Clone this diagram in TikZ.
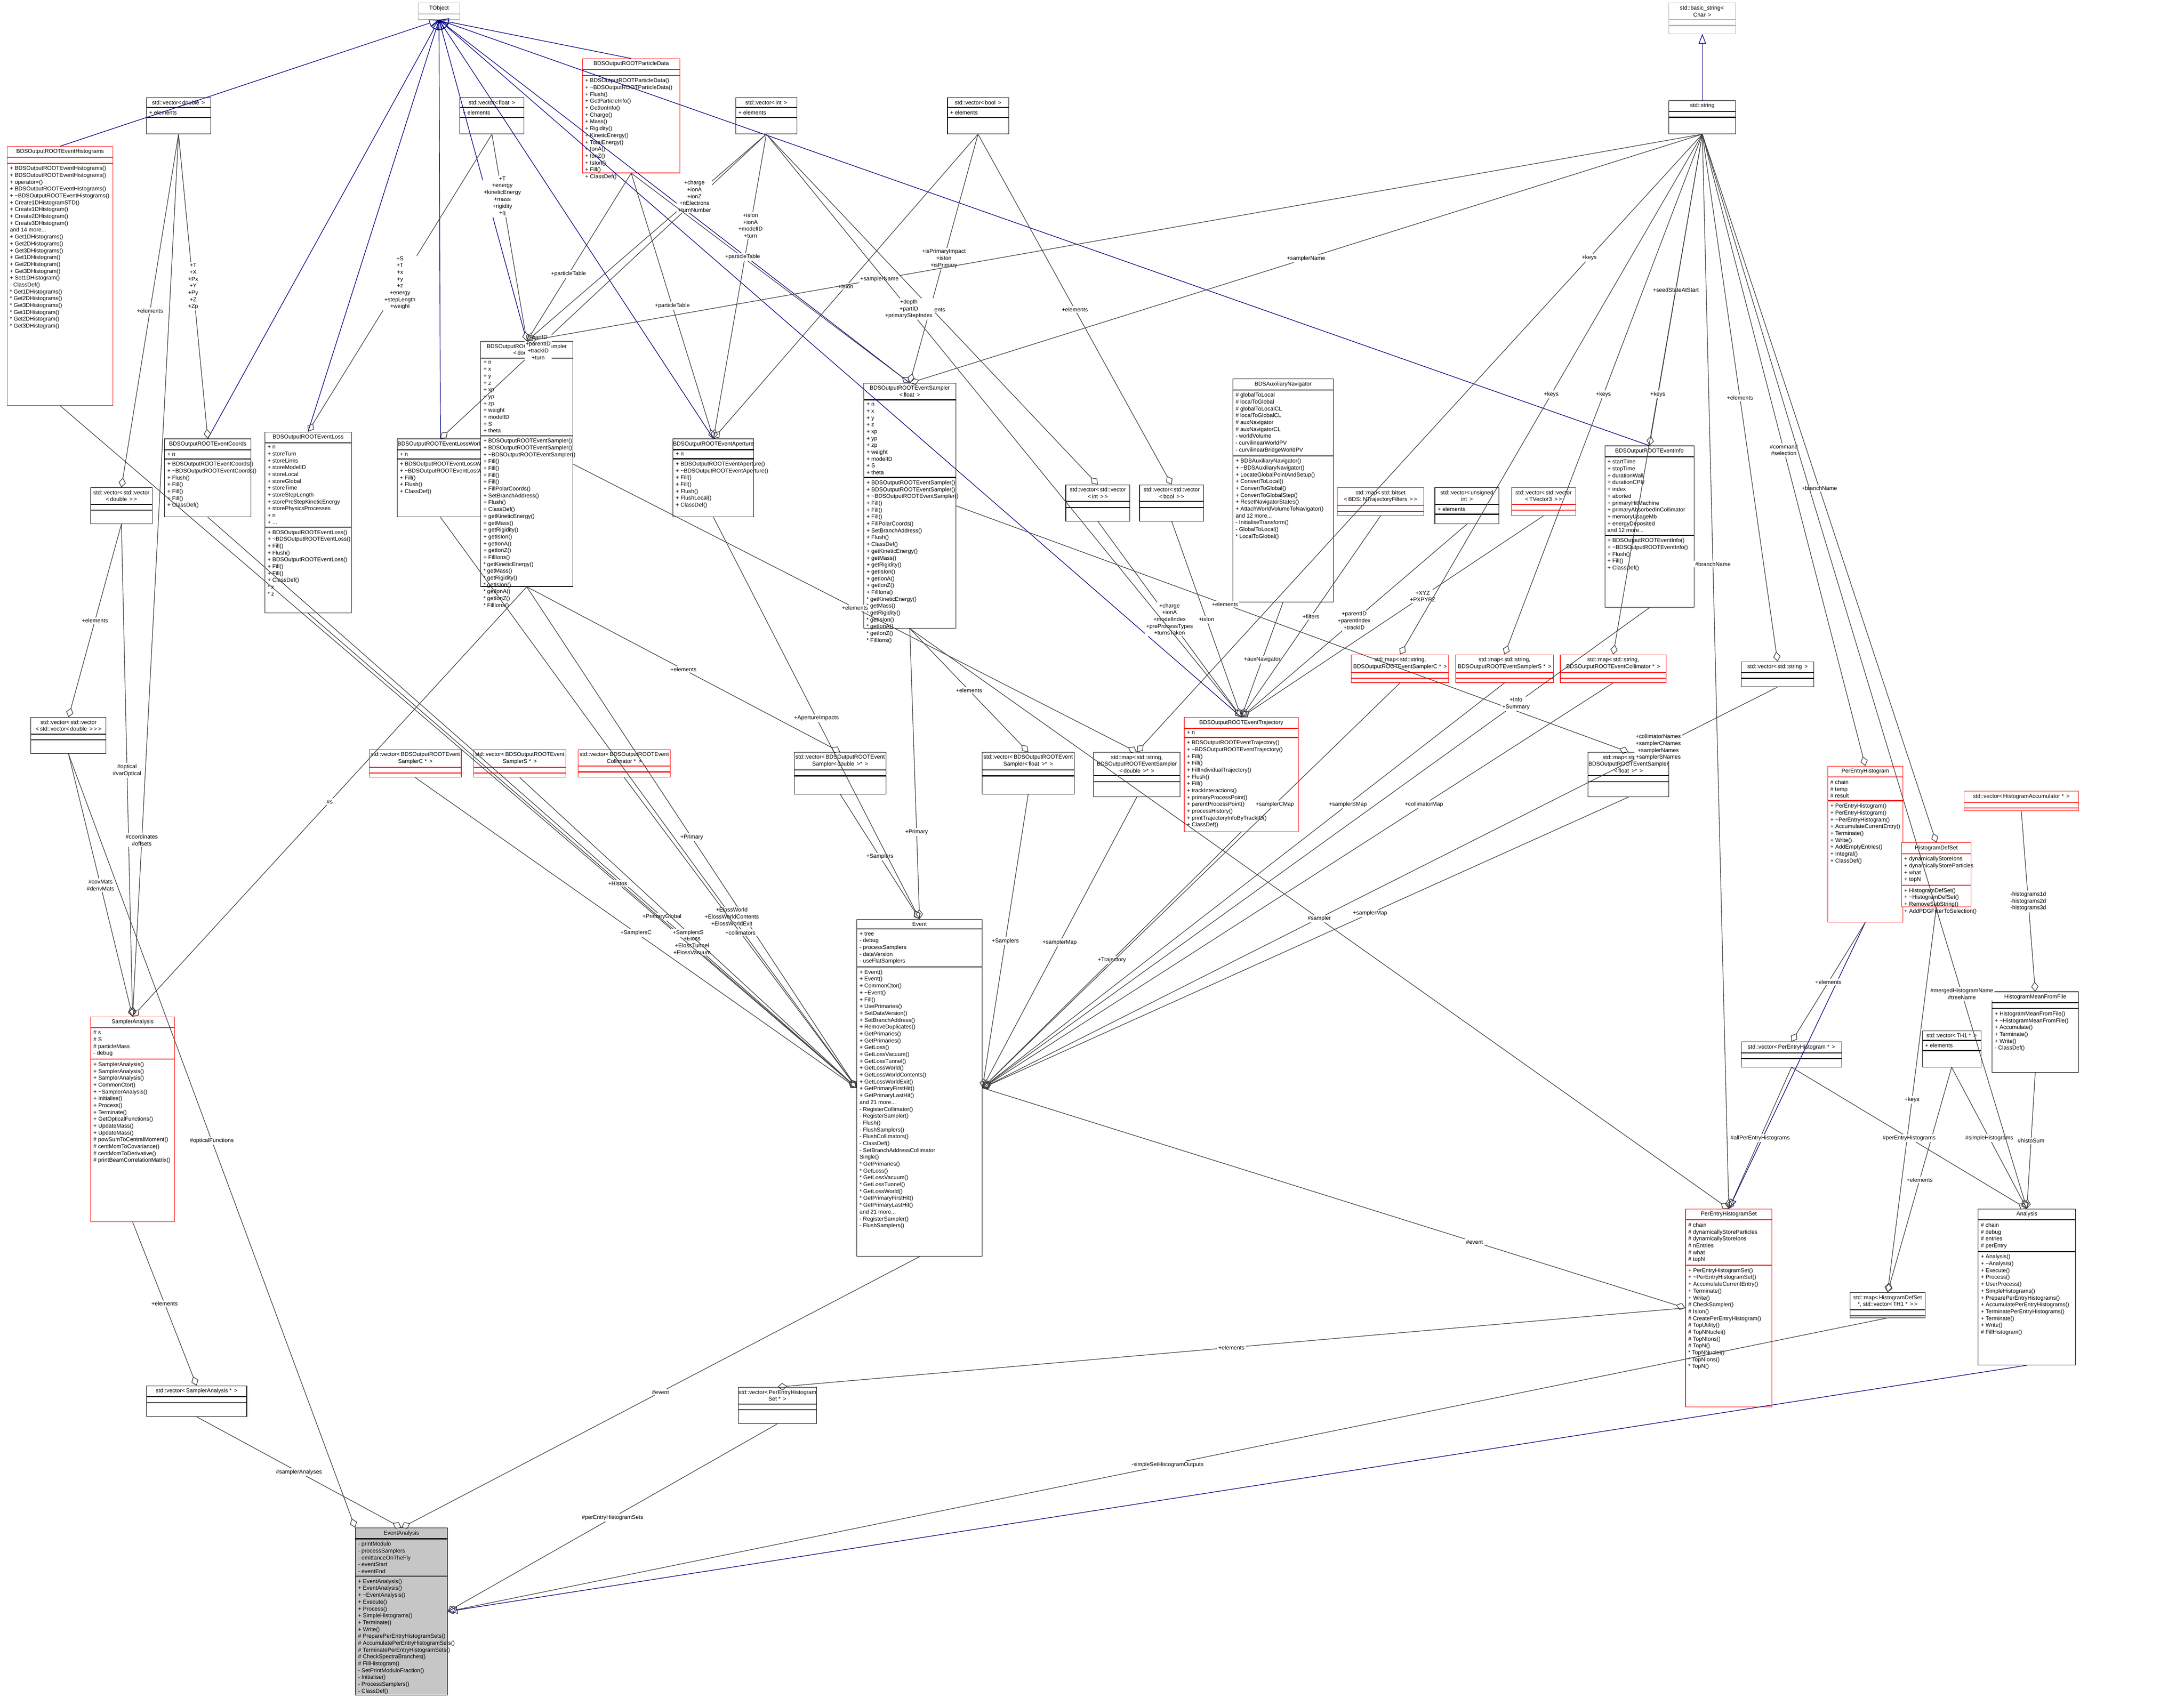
\documentclass[tikz,border=0pt]{standalone}
\usepackage{fontspec}
\setmainfont{Liberation Sans}
\usetikzlibrary{arrows.meta}
\newcommand{\ltc}{\textless\,}
\newcommand{\gtc}{\,\textgreater}

% class box: name, x, y, w, h, colour, title, attributes, methods
\newcommand{\cls}[9]{%
  \node[clsbox, draw=#6, minimum width=#4*0.02cm, minimum height=#5*0.02cm] (#1) at (#2,#3) {};
  \node[anchor=north, align=center, inner sep=1pt] (#1t) at (#1.north) {#7};
  \draw[#6] (#1t.south -| #1.west) -- (#1t.south -| #1.east);
  \node[anchor=north west, align=left, inner sep=1pt] (#1a) at (#1t.south -| #1.west) {#8};
  \draw[#6] (#1a.south -| #1.west) -- (#1a.south -| #1.east);
  \node[anchor=north west, align=left, inner sep=1pt] at (#1a.south -| #1.west) {#9};
}

\begin{document}
\begin{tikzpicture}[x=0.02cm, y=-0.02cm, font=\fontsize{2.3}{2.8}\selectfont]
  \tikzset{clsbox/.style={rectangle, anchor=north west, fill=white, line width=0.2pt, inner sep=0pt}}
  \tikzset{use/.style={draw=black!75, line width=0.25pt, {Diamond[open, length=4pt, width=3pt]}-}}
  \tikzset{inh/.style={draw=blue!50!black, line width=0.25pt, -{Triangle[open, length=4pt, width=3pt]}}}
  \tikzset{lab/.style={fill=white, align=center, inner sep=0.5pt}}
  \useasboundingbox (0,0) rectangle (1568,1219);

  % top row
  \cls{tobj}{300}{2}{30}{12}{gray!60}{TObject}{}{}
  \cls{bstr}{1198}{2}{48}{22}{gray!60}{std::basic\_string\ltc\\Char \gtc}{~}{~}
  \cls{str}{1198}{72}{48}{24}{black}{std::string}{~}{~}
  \cls{pdata}{418}{42}{70}{82}{red}{BDSOutputROOTParticleData}{~}{+ BDSOutputROOTParticleData()\\+ \textasciitilde BDSOutputROOTParticleData()\\+ Flush()\\+ GetParticleInfo()\\+ GetIonInfo()\\+ Charge()\\+ Mass()\\+ Rigidity()\\+ KineticEnergy()\\+ TotalEnergy()\\+ IonA()\\+ IonZ()\\+ IsIon()\\+ Fill()\\+ ClassDef()}
  \cls{vd}{105}{70}{46}{26}{black}{std::vector\ltc double \gtc}{+ elements}{~}
  \cls{vf}{330}{70}{46}{26}{black}{std::vector\ltc float \gtc}{+ elements}{~}
  \cls{vi}{528}{70}{44}{26}{black}{std::vector\ltc int \gtc}{+ elements}{~}
  \cls{vb}{680}{70}{44}{26}{black}{std::vector\ltc bool \gtc}{+ elements}{~}

  % BDSOutput classes
  \cls{hist}{5}{105}{76}{186}{red}{BDSOutputROOTEventHistograms}{~}{+ BDSOutputROOTEventHistograms()\\+ BDSOutputROOTEventHistograms()\\+ operator=()\\+ BDSOutputROOTEventHistograms()\\+ \textasciitilde BDSOutputROOTEventHistograms()\\+ Create1DHistogramSTD()\\+ Create1DHistogram()\\+ Create2DHistogram()\\+ Create3DHistogram()\\and 14 more...\\+ Get1DHistograms()\\+ Get2DHistograms()\\+ Get3DHistograms()\\+ Get1DHistogram()\\+ Get2DHistogram()\\+ Get3DHistogram()\\+ Set1DHistogram()\\- ClassDef()\\* Get1DHistograms()\\* Get2DHistograms()\\* Get3DHistograms()\\* Get1DHistogram()\\* Get2DHistogram()\\* Get3DHistogram()}
  \cls{coords}{118}{315}{62}{56}{black}{BDSOutputROOTEventCoords}{+ n}{+ BDSOutputROOTEventCoords()\\+ \textasciitilde BDSOutputROOTEventCoords()\\+ Flush()\\+ Fill()\\+ Fill()\\+ Fill()\\+ ClassDef()}
  \cls{loss}{190}{310}{62}{130}{black}{BDSOutputROOTEventLoss}{+ n\\+ storeTurn\\+ storeLinks\\+ storeModelID\\+ storeLocal\\+ storeGlobal\\+ storeTime\\+ storeStepLength\\+ storePreStepKineticEnergy\\+ storePhysicsProcesses\\+ n\\+ ...}{+ BDSOutputROOTEventLoss()\\+ \textasciitilde BDSOutputROOTEventLoss()\\+ Fill()\\+ Flush()\\+ BDSOutputROOTEventLoss()\\+ Fill()\\+ Fill()\\+ ClassDef()\\* x\\* z}
  \cls{lworld}{285}{315}{62}{56}{black}{BDSOutputROOTEventLossWorld}{+ n}{+ BDSOutputROOTEventLossWorld()\\+ \textasciitilde BDSOutputROOTEventLossWorld()\\+ Fill()\\+ Flush()\\+ ClassDef()}
  \cls{sd}{345}{245}{66}{176}{black}{BDSOutputROOTEventSampler\\\ltc double \gtc}{+ n\\+ x\\+ y\\+ z\\+ xp\\+ yp\\+ zp\\+ weight\\+ modelID\\+ S\\+ theta}{+ BDSOutputROOTEventSampler()\\+ BDSOutputROOTEventSampler()\\+ \textasciitilde BDSOutputROOTEventSampler()\\+ Fill()\\+ Fill()\\+ Fill()\\+ Fill()\\+ FillPolarCoords()\\+ SetBranchAddress()\\+ Flush()\\+ ClassDef()\\+ getKineticEnergy()\\+ getMass()\\+ getRigidity()\\+ getIsIon()\\+ getIonA()\\+ getIonZ()\\+ FillIons()\\* getKineticEnergy()\\* getMass()\\* getRigidity()\\* getIsIon()\\* getIonA()\\* getIonZ()\\* FillIons()}
  \cls{aper}{483}{315}{58}{56}{black}{BDSOutputROOTEventAperture}{+ n}{+ BDSOutputROOTEventAperture()\\+ \textasciitilde BDSOutputROOTEventAperture()\\+ Fill()\\+ Fill()\\+ Flush()\\+ FlushLocal()\\+ ClassDef()}
  \cls{sf}{620}{275}{66}{176}{black}{BDSOutputROOTEventSampler\\\ltc float \gtc}{+ n\\+ x\\+ y\\+ z\\+ xp\\+ yp\\+ zp\\+ weight\\+ modelID\\+ S\\+ theta}{+ BDSOutputROOTEventSampler()\\+ BDSOutputROOTEventSampler()\\+ \textasciitilde BDSOutputROOTEventSampler()\\+ Fill()\\+ Fill()\\+ Fill()\\+ FillPolarCoords()\\+ SetBranchAddress()\\+ Flush()\\+ ClassDef()\\+ getKineticEnergy()\\+ getMass()\\+ getRigidity()\\+ getIsIon()\\+ getIonA()\\+ getIonZ()\\+ FillIons()\\* getKineticEnergy()\\* getMass()\\* getRigidity()\\* getIsIon()\\* getIonA()\\* getIonZ()\\* FillIons()}
  \cls{vvi}{765}{348}{46}{26}{black}{std::vector\ltc std::vector\\\ltc int \gtc\gtc}{~}{~}
  \cls{vvb}{818}{348}{46}{26}{black}{std::vector\ltc std::vector\\\ltc bool \gtc\gtc}{~}{~}
  \cls{aux}{885}{272}{72}{160}{black}{BDSAuxiliaryNavigator}{\# globalToLocal\\\# localToGlobal\\\# globalToLocalCL\\\# localToGlobalCL\\\# auxNavigator\\\# auxNavigatorCL\\- worldVolume\\- curvilinearWorldPV\\- curvilinearBridgeWorldPV}{+ BDSAuxiliaryNavigator()\\+ \textasciitilde BDSAuxiliaryNavigator()\\+ LocateGlobalPointAndSetup()\\+ ConvertToLocal()\\+ ConvertToGlobal()\\+ ConvertToGlobalStep()\\+ ResetNavigatorStates()\\+ AttachWorldVolumeToNavigator()\\and 12 more...\\- InitialiseTransform()\\- GlobalToLocal()\\* LocalToGlobal()}
  \cls{bitset}{960}{350}{62}{20}{red}{std::map\ltc std::bitset\\\ltc BDS::NTrajectoryFilters \gtc\gtc}{~}{~}
  \cls{vui}{1030}{350}{46}{26}{black}{std::vector\ltc unsigned\\int \gtc}{+ elements}{~}
  \cls{vtv}{1085}{350}{46}{20}{red}{std::vector\ltc std::vector\\\ltc TVector3 \gtc\gtc}{~}{~}
  \cls{info}{1152}{320}{64}{116}{black}{BDSOutputROOTEventInfo}{+ startTime\\+ stopTime\\+ durationWall\\+ durationCPU\\+ index\\+ aborted\\+ primaryHitMachine\\+ primaryAbsorbedInCollimator\\+ memoryUsageMb\\+ energyDeposited\\and 12 more...}{+ BDSOutputROOTEventInfo()\\+ \textasciitilde BDSOutputROOTEventInfo()\\+ Flush()\\+ Fill()\\+ ClassDef()}
  \cls{vvd}{65}{350}{44}{26}{black}{std::vector\ltc std::vector\\\ltc double \gtc\gtc}{~}{~}
  \cls{vvvd}{22}{515}{54}{26}{black}{std::vector\ltc std::vector\\\ltc std::vector\ltc double \gtc\gtc\gtc}{~}{~}
  \cls{vstr}{1250}{475}{52}{18}{black}{std::vector\ltc std::string \gtc}{~}{~}

  \cls{mc}{970}{470}{70}{20}{red}{std::map\ltc std::string,\\BDSOutputROOTEventSamplerC * \gtc}{~}{~}
  \cls{ms}{1045}{470}{70}{20}{red}{std::map\ltc std::string,\\BDSOutputROOTEventSamplerS * \gtc}{~}{~}
  \cls{mcol}{1120}{470}{76}{20}{red}{std::map\ltc std::string,\\BDSOutputROOTEventCollimator * \gtc}{~}{~}
  \cls{traj}{850}{515}{82}{82}{red}{BDSOutputROOTEventTrajectory}{+ n}{+ BDSOutputROOTEventTrajectory()\\+ \textasciitilde BDSOutputROOTEventTrajectory()\\+ Fill()\\+ Fill()\\+ FillIndividualTrajectory()\\+ Flush()\\+ Fill()\\+ trackInteractions()\\+ primaryProcessPoint()\\+ parentProcessPoint()\\+ processHistory()\\+ printTrajectoryInfoByTrackID()\\+ ClassDef()}
  \cls{md}{785}{540}{62}{32}{black}{std::map\ltc std::string,\\BDSOutputROOTEventSampler\\\ltc double \gtc * \gtc}{~}{~}
  \cls{mf}{1140}{540}{58}{32}{black}{std::map\ltc std::string,\\BDSOutputROOTEventSampler\\\ltc float \gtc * \gtc}{~}{~}
  \cls{vsc}{265}{538}{66}{20}{red}{std::vector\ltc BDSOutputROOTEvent\\SamplerC * \gtc}{~}{~}
  \cls{vss}{340}{538}{66}{20}{red}{std::vector\ltc BDSOutputROOTEvent\\SamplerS * \gtc}{~}{~}
  \cls{vcol}{415}{538}{66}{20}{red}{std::vector\ltc BDSOutputROOTEvent\\Collimator * \gtc}{~}{~}
  \cls{vsd}{570}{540}{66}{30}{black}{std::vector\ltc BDSOutputROOTEvent\\Sampler\ltc double \gtc * \gtc}{~}{~}
  \cls{vsf}{705}{540}{66}{30}{black}{std::vector\ltc BDSOutputROOTEvent\\Sampler\ltc float \gtc * \gtc}{~}{~}

  % analysis classes
  \cls{peh}{1312}{550}{54}{112}{red}{PerEntryHistogram}{\# chain\\\# temp\\\# result}{+ PerEntryHistogram()\\+ PerEntryHistogram()\\+ \textasciitilde PerEntryHistogram()\\+ AccumulateCurrentEntry()\\+ Terminate()\\+ Write()\\+ AddEmptyEntries()\\+ Integral()\\+ ClassDef()}
  \cls{vacc}{1410}{568}{82}{14}{red}{std::vector\ltc HistogramAccumulator * \gtc}{~}{~}
  \cls{hds}{1365}{605}{50}{46}{red}{HistogramDefSet}{+ dynamicallyStoreIons\\+ dynamicallyStoreParticles\\+ what\\+ topN}{+ HistogramDefSet()\\+ \textasciitilde HistogramDefSet()\\+ RemoveSubString()\\+ AddPDGFilterToSelection()}
  \cls{ev}{615}{660}{90}{242}{black}{Event}{+ tree\\- debug\\- processSamplers\\- dataVersion\\- useFlatSamplers}{+ Event()\\+ Event()\\+ CommonCtor()\\+ \textasciitilde Event()\\+ Fill()\\+ UsePrimaries()\\+ SetDataVersion()\\+ SetBranchAddress()\\+ RemoveDuplicates()\\+ GetPrimaries()\\+ GetPrimaries()\\+ GetLoss()\\+ GetLossVacuum()\\+ GetLossTunnel()\\+ GetLossWorld()\\+ GetLossWorldContents()\\+ GetLossWorldExit()\\+ GetPrimaryFirstHit()\\+ GetPrimaryLastHit()\\and 21 more...\\- RegisterCollimator()\\- RegisterSampler()\\- Flush()\\- FlushSamplers()\\- FlushCollimators()\\- ClassDef()\\- SetBranchAddressCollimator\\Single()\\* GetPrimaries()\\* GetLoss()\\* GetLossVacuum()\\* GetLossTunnel()\\* GetLossWorld()\\* GetPrimaryFirstHit()\\* GetPrimaryLastHit()\\and 21 more...\\- RegisterSampler()\\- FlushSamplers()}
  \cls{sa}{65}{730}{60}{147}{red}{SamplerAnalysis}{\# s\\\# S\\\# particleMass\\- debug}{+ SamplerAnalysis()\\+ SamplerAnalysis()\\+ SamplerAnalysis()\\+ CommonCtor()\\+ \textasciitilde SamplerAnalysis()\\+ Initialise()\\+ Process()\\+ Terminate()\\+ GetOpticalFunctions()\\+ UpdateMass()\\+ UpdateMass()\\\# powSumToCentralMoment()\\\# centMomToCovariance()\\\# centMomToDerivative()\\\# printBeamCorrelationMatrix()}
  \cls{vpeh}{1250}{748}{72}{18}{black}{std::vector\ltc PerEntryHistogram * \gtc}{~}{~}
  \cls{vth}{1380}{740}{42}{26}{black}{std::vector\ltc TH1 * \gtc}{+ elements}{~}
  \cls{hmff}{1430}{712}{62}{58}{black}{HistogramMeanFromFile}{~}{+ HistogramMeanFromFile()\\+ \textasciitilde HistogramMeanFromFile()\\+ Accumulate()\\+ Terminate()\\+ Write()\\- ClassDef()}
  \cls{pehs}{1210}{868}{62}{142}{red}{PerEntryHistogramSet}{\# chain\\\# dynamicallyStoreParticles\\\# dynamicallyStoreIons\\\# nEntries\\\# what\\\# topN}{+ PerEntryHistogramSet()\\+ \textasciitilde PerEntryHistogramSet()\\+ AccumulateCurrentEntry()\\+ Terminate()\\+ Write()\\\# CheckSampler()\\\# IsIon()\\\# CreatePerEntryHistogram()\\\# TopUtility()\\\# TopNNuclei()\\\# TopNIons()\\\# TopN()\\* TopNNuclei()\\* TopNIons()\\* TopN()}
  \cls{ana}{1420}{868}{70}{112}{black}{Analysis}{\# chain\\\# debug\\\# entries\\\# perEntry}{+ Analysis()\\+ \textasciitilde Analysis()\\+ Execute()\\+ Process()\\+ UserProcess()\\+ SimpleHistograms()\\+ PreparePerEntryHistograms()\\+ AccumulatePerEntryHistograms()\\+ TerminatePerEntryHistograms()\\+ Terminate()\\+ Write()\\\# FillHistogram()}
  \cls{map}{1328}{928}{54}{18}{black}{std::map\ltc HistogramDefSet\\*, std::vector\ltc TH1 * \gtc\gtc}{~}{~}
  \cls{vsa}{105}{995}{72}{22}{black}{std::vector\ltc SamplerAnalysis * \gtc}{~}{~}
  \cls{vpehs}{530}{996}{56}{26}{black}{std::vector\ltc PerEntryHistogram\\Set * \gtc}{~}{~}
  \node[clsbox, draw=black, fill=gray!45, minimum width=66*0.02cm, minimum height=120*0.02cm] (ea) at (255,1097) {};
  \node[anchor=north, inner sep=1pt] (eat) at (ea.north) {EventAnalysis};
  \draw (eat.south -| ea.west) -- (eat.south -| ea.east);
  \node[anchor=north west, align=left, inner sep=1pt] (eaa) at (eat.south -| ea.west) {- printModulo\\- processSamplers\\- emittanceOnTheFly\\- eventStart\\- eventEnd};
  \draw (eaa.south -| ea.west) -- (eaa.south -| ea.east);
  \node[anchor=north west, align=left, inner sep=1pt] at (eaa.south -| ea.west) {+ EventAnalysis()\\+ EventAnalysis()\\+ \textasciitilde EventAnalysis()\\+ Execute()\\+ Process()\\+ SimpleHistograms()\\+ Terminate()\\+ Write()\\\# PreparePerEntryHistogramSets()\\\# AccumulatePerEntryHistogramSets()\\\# TerminatePerEntryHistogramSets()\\\# CheckSpectraBranches()\\\# FillHistogram()\\- SetPrintModuloFraction()\\- Initialise()\\- ProcessSamplers()\\- ClassDef()};

  % inheritance
  \foreach \c in {pdata, hist, coords, loss, lworld, sd, aper, sf, info, traj}
    \draw[inh] (\c.north) -- (tobj.south);
  \draw[inh] (str.north) -- (bstr.south);
  \draw[inh] (peh.south) -- (pehs.north);
  \draw[inh] (ana.south) -- (ea.east);

  % members
  \draw[use] (coords.north) -- node[lab]{+T\\+X\\+Px\\+Y\\+Py\\+Z\\+Zp} (vd.south);
  \draw[use] (vvd.north) -- node[lab]{+elements} (vd.south);
  \draw[use] (loss.north) -- node[lab]{+S\\+T\\+x\\+y\\+z\\+energy\\+stepLength\\+weight} (vf.south);
  \draw[use] (lworld.north) -- node[lab, pos=0.3]{+partID\\+parentID\\+trackID\\+turn} (vi.south);
  \draw[use] (sd.north) -- node[lab, pos=0.7]{+T\\+energy\\+kineticEnergy\\+mass\\+rigidity\\+q} (vf.south);
  \draw[use] (sd.north) -- node[lab, pos=0.7]{+charge\\+ionA\\+ionZ\\+nElectrons\\+turnNumber} (vi.south);
  \draw[use] (sd.north) -- node[lab, pos=0.4]{+particleTable} (pdata.south);
  \draw[use] (aper.north) -- node[lab]{+particleTable} (pdata.south);
  \draw[use] (aper.north) -- node[lab, pos=0.7]{+isIon\\+ionA\\+modelID\\+turn} (vi.south);
  \draw[use] (aper.north) -- node[lab, pos=0.5]{+isIon} (vb.south);
  \draw[use] (sf.north) -- node[lab, pos=0.6]{+particleTable} (pdata.south);
  \draw[use] (sf.north) -- node[lab]{+isPrimaryImpact\\+isIon\\+isPrimary} (vb.south);
  \draw[use] (sf.north) -- node[lab]{+samplerName} (str.south);
  \draw[use] (sd.north) -- node[lab, pos=0.3]{+samplerName} (str.south);
  \draw[use] (vvi.north) -- node[lab]{+elements} (vi.south);
  \draw[use] (vvb.north) -- node[lab]{+elements} (vb.south);
  \draw[use] (info.north) -- node[lab]{+seedStateAtStart} (str.south);
  \draw[use] (vstr.north) -- node[lab]{+elements} (str.south);
  \draw[use] (traj.north) -- node[lab]{+auxNavigator} (aux.south);
  \draw[use] (traj.north) -- node[lab]{+filters} (bitset.south);
  \draw[use] (traj.north) -- node[lab]{+parentID\\+parentIndex\\+trackID} (vui.south);
  \draw[use] (traj.north) -- node[lab, pos=0.6]{+XYZ\\+PXPYPZ} (vtv.south);
  \draw[use] (traj.north) -- node[lab]{+charge\\+ionA\\+modelIndex\\+preProcessTypes\\+turnsTaken} (vvi.south);
  \draw[use] (traj.north) -- node[lab]{+isIon} (vvb.south);
  \draw[use] (traj.north) -- node[lab, pos=0.7]{+depth\\+partID\\+primaryStepIndex} (vi.south);
  \draw[use] (mc.north) -- node[lab]{+keys} (str.south);
  \draw[use] (ms.north) -- node[lab]{+keys} (str.south);
  \draw[use] (mcol.north) -- node[lab]{+keys} (str.south);
  \draw[use] (md.north) -- node[lab]{+elements} (sd.east);
  \draw[use] (md.north) -- node[lab, pos=0.8]{+keys} (str.south);
  \draw[use] (mf.north) -- node[lab, pos=0.6]{+elements} (sf.east);
  \draw[use] (vsd.north) -- node[lab]{+elements} (sd.south);
  \draw[use] (vsf.north) -- node[lab]{+elements} (sf.south);
  \draw[use] (vvvd.north) -- node[lab]{+elements} (vvd.south);

  % Event members
  \draw[use] (ev.west) -- node[lab]{+Primary} (sd.south);
  \draw[use] (ev.west) -- node[lab, pos=0.3]{+PrimaryGlobal} (coords.south);
  \draw[use] (ev.west) -- node[lab, pos=0.3]{+Eloss\\+ElossTunnel\\+ElossVacuum} (loss.south);
  \draw[use] (ev.west) -- node[lab, pos=0.3]{+ElossWorld\\+ElossWorldContents\\+ElossWorldExit} (lworld.south);
  \draw[use] (ev.west) -- node[lab, pos=0.3]{+Histos} (hist.south);
  \draw[use] (ev.west) -- node[lab]{+SamplersC} (vsc.south);
  \draw[use] (ev.west) -- node[lab]{+SamplersS} (vss.south);
  \draw[use] (ev.west) -- node[lab]{+collimators} (vcol.south);
  \draw[use] (ev.north) -- node[lab]{+Samplers} (vsd.south);
  \draw[use] (ev.north) -- node[lab]{+ApertureImpacts} (aper.south);
  \draw[use] (ev.north) -- node[lab, pos=0.3]{+Primary} (sf.south);
  \draw[use] (ev.east) -- node[lab]{+Samplers} (vsf.south);
  \draw[use] (ev.east) -- node[lab]{+samplerMap} (md.south);
  \draw[use] (ev.east) -- node[lab]{+Trajectory} (traj.south);
  \draw[use] (ev.east) -- node[lab, pos=0.7]{+samplerCMap} (mc.south);
  \draw[use] (ev.east) -- node[lab, pos=0.7]{+samplerSMap} (ms.south);
  \draw[use] (ev.east) -- node[lab, pos=0.7]{+collimatorMap} (mcol.south);
  \draw[use] (ev.east) -- node[lab, pos=0.6]{+samplerMap} (mf.south);
  \draw[use] (ev.east) -- node[lab, pos=0.8]{+Info\\+Summary} (info.south);
  \draw[use] (ev.east) -- node[lab, pos=0.85]{+collimatorNames\\+samplerCNames\\+samplerNames\\+samplerSNames} (vstr.south);

  % analysis members
  \draw[use] (sa.north) -- node[lab]{\#s} (sd.south);
  \draw[use] (sa.north) -- node[lab]{\#covMats\\\#derivMats} (vvvd.south);
  \draw[use] (sa.north) -- node[lab]{\#optical\\\#varOptical} (vvd.south);
  \draw[use] (sa.north) -- node[lab, pos=0.2]{\#coordinates\\\#offsets} (vd.south);
  \draw[use] (vsa.north) -- node[lab]{+elements} (sa.south);
  \draw[use] (pehs.west) -- node[lab, pos=0.3]{\#event} (ev.east);
  \draw[use] (pehs.north) -- node[lab]{\#sampler} (sf.south);
  \draw[use] (pehs.north) -- node[lab, pos=0.6]{\#branchName} (str.south);
  \draw[use] (pehs.north) -- node[lab]{\#allPerEntryHistograms} (vpeh.south);
  \draw[use] (peh.north) -- node[lab]{\#command\\\#selection} (str.south);
  \draw[use] (hds.north) -- node[lab]{+branchName} (str.south);
  \draw[use] (vpeh.north) -- node[lab]{+elements} (peh.south);
  \draw[use] (map.north) -- node[lab]{+keys} (hds.south);
  \draw[use] (map.north) -- node[lab]{+elements} (vth.south);
  \draw[use] (ana.north) -- node[lab]{\#simpleHistograms} (vth.south);
  \draw[use] (ana.north) -- node[lab]{\#histoSum} (hmff.south);
  \draw[use] (ana.north) -- node[lab]{\#perEntryHistograms} (vpeh.south);
  \draw[use] (ana.north) -- node[lab, pos=0.2]{\#mergedHistogramName\\\#treeName} (str.south);
  \draw[use] (hmff.north) -- node[lab]{-histograms1d\\-histograms2d\\-histograms3d} (vacc.south);
  \draw[use] (vpehs.north) -- node[lab]{+elements} (pehs.west);
  \draw[use] (ea.north west) -- node[lab]{\#opticalFunctions} (vvvd.south);
  \draw[use] (ea.north) -- node[lab]{\#samplerAnalyses} (vsa.south);
  \draw[use] (ea.north) -- node[lab]{\#event} (ev.south);
  \draw[use] (ea.east) -- node[lab]{\#perEntryHistogramSets} (vpehs.south);
  \draw[use] (ea.east) -- node[lab]{-simpleSetHistogramOutputs} (map.south);
\end{tikzpicture}
\end{document}
